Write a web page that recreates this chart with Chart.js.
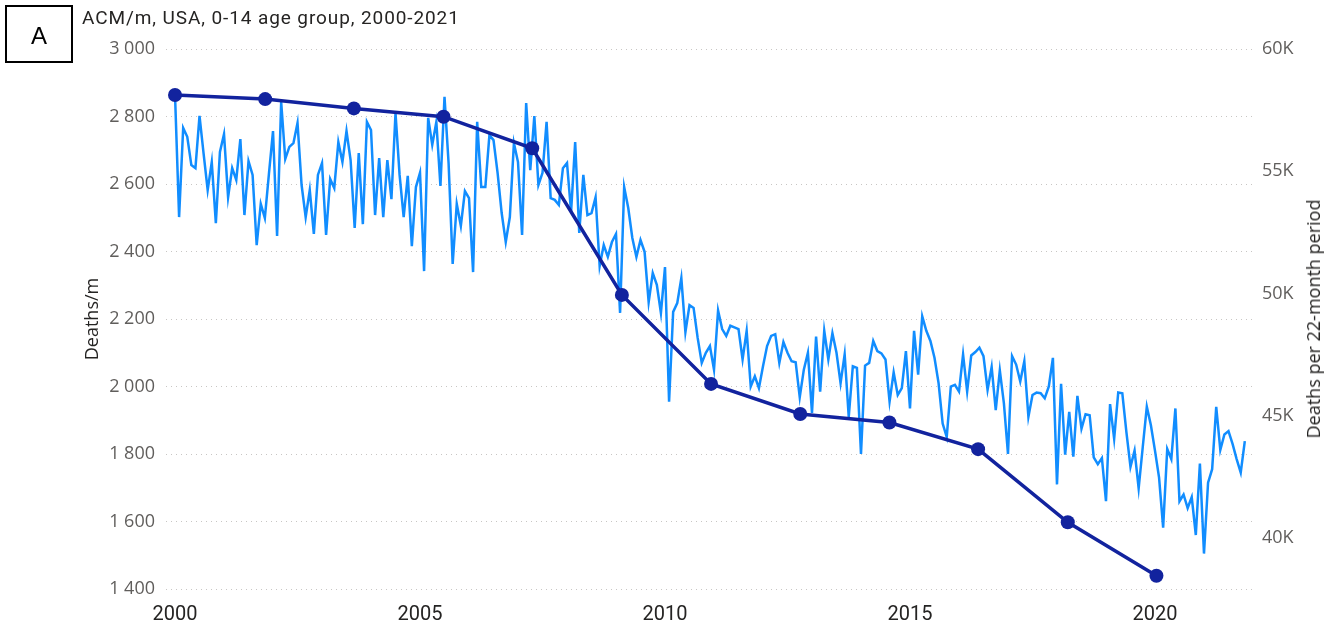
<!DOCTYPE html>
<html>
<head>
<meta charset="utf-8">
<script src="https://cdn.jsdelivr.net/npm/chart.js@4/dist/chart.umd.min.js"></script>
<style>
  body { margin: 0; background: #fff; }
  #wrap { position: relative; width: 1325px; height: 622px; }
  #panel {
    position: absolute; left: 5px; top: 5px; width: 64px; height: 54px;
    border: 2px solid #000; font: 24px "Liberation Sans", Arial, sans-serif;
    text-align: center; line-height: 58px; color: #000;
  }
  #title {
    position: absolute; left: 82px; top: 6px; white-space: nowrap;
    font: 19px Roboto, sans-serif; letter-spacing: 0.9px; color: #252423;
  }
  #rightTitle {
    position: absolute; left: 1313px; top: 319px; white-space: nowrap;
    font: 18px "Open Sans", sans-serif; color: #252423;
    transform: translate(-50%, -50%) rotate(-90deg);
  }
</style>
</head>
<body>
<div id="wrap">
  <canvas id="myChart" width="1325" height="622"></canvas>
  <div id="panel">A</div>
  <div id="title">ACM/m, USA, 0-14 age group, 2000-2021</div>
  <div id="rightTitle">Deaths per 22-month period</div>
</div>
<script>
// monthly deaths, Jan 2000 onwards
var startYear = 2000;
var monthlyDeaths = [
  2864, 2502, 2766, 2740, 2656, 2647, 2802, 2690, 2582, 2665, 2484, 2695,
  2748, 2561, 2647, 2612, 2733, 2508, 2668, 2627, 2419, 2541, 2499, 2630,
  2757, 2446, 2843, 2674, 2710, 2721, 2781, 2597, 2502, 2582, 2452, 2627,
  2662, 2449, 2615, 2588, 2724, 2665, 2757, 2671, 2470, 2692, 2481, 2784,
  2760, 2508, 2677, 2502, 2671, 2555, 2810, 2627, 2502, 2624, 2416, 2591,
  2633, 2342, 2796, 2716, 2784, 2594, 2858, 2662, 2363, 2541, 2476, 2579,
  2558, 2339, 2784, 2591, 2591, 2745, 2730, 2633, 2514, 2428, 2502, 2721,
  2665, 2449, 2840, 2641, 2801, 2597, 2633, 2784, 2558, 2553, 2538, 2647,
  2662, 2517, 2724, 2455, 2627, 2508, 2514, 2561, 2357, 2419, 2384, 2428,
  2452, 2218, 2591, 2529, 2440, 2384, 2434, 2399, 2250, 2336, 2301, 2218,
  2354, 1955, 2221, 2247, 2321, 2161, 2241, 2233, 2144, 2070, 2100, 2120,
  2050, 2225, 2170, 2150, 2180, 2175, 2170, 2080, 2165, 2000, 2030, 1995,
  2060, 2120, 2150, 2155, 2070, 2132, 2100, 2075, 2072, 1968, 2050, 2100,
  1922, 2148, 1985, 2165, 2080, 2158, 2100, 2010, 2095, 1910, 2060, 2055,
  1800, 2062, 2070, 2135, 2105, 2098, 2080, 1955, 2042, 1975, 1995, 2105,
  1935, 2165, 2035, 2208, 2165, 2135, 2085, 2010, 1890, 1850, 2000, 2005,
  1985, 2095, 1985, 2092, 2102, 2115, 2090, 1990, 2058, 1930, 2048, 1950,
  1800, 2090, 2065, 2015, 2075, 1910, 1975, 1982, 1980, 1965, 2000, 2085,
  1710, 2008, 1798, 1925, 1792, 1972, 1875, 1918, 1915, 1790, 1770, 1788,
  1660, 1948, 1845, 1982, 1980, 1865, 1762, 1810, 1698, 1820, 1940, 1885,
  1810, 1730, 1582, 1815, 1785, 1935, 1660, 1680, 1640, 1672, 1560, 1772,
  1505, 1715, 1755, 1940, 1812, 1858, 1868, 1830, 1785, 1745, 1838
];

// 22-month periods (right axis)
var periodYears = [2000.0, 2001.84, 2003.65, 2005.48, 2007.29, 2009.12, 2010.94, 2012.76, 2014.58, 2016.39, 2018.22, 2020.03];
var periodDeaths = [58120, 57950, 57570, 57230, 55940, 49940, 46300, 45070, 44720, 43630, 40640, 38450];

var xTicks = [2000, 2005, 2010, 2015, 2020];
var rightTicks = [40000, 45000, 50000, 55000, 60000];

var tickFont = { family: 'Open Sans', size: 18 };

function spaced(v) {
    return String(v).replace(/\B(?=(\d{3})+(?!\d))/g, ' ');
}

var ctx = document.getElementById('myChart').getContext('2d');
var myChart = new Chart(ctx, {
    type: 'line',
    data: {
        datasets: [{
            label: 'Deaths per 22-month period',
            data: periodYears.map(function (x, i) { return { x: x, y: periodDeaths[i] }; }),
            yAxisID: 'y1',
            borderColor: '#12239E',
            backgroundColor: '#12239E',
            borderWidth: 3.5,
            pointRadius: 7,
            pointBorderWidth: 0,
            pointBackgroundColor: '#12239E'
        }, {
            label: 'Deaths/m',
            data: monthlyDeaths.map(function (v, i) { return { x: startYear + i / 12, y: v }; }),
            yAxisID: 'y',
            borderColor: '#118DFF',
            borderWidth: 2.5,
            pointRadius: 0
        }]
    },
    options: {
        responsive: false,
        animation: false,
        layout: { padding: { left: 0, right: 0, top: 49, bottom: 0 } },
        plugins: {
            legend: { display: false },
            tooltip: { enabled: false }
        },
        scales: {
            x: {
                type: 'linear',
                min: 1999.816,
                max: 2021.98,
                grid: { display: false },
                border: { display: false },
                afterBuildTicks: function (scale) {
                    scale.ticks = xTicks.map(function (v) { return { value: v }; });
                },
                afterFit: function (scale) { scale.height = 33; },
                ticks: {
                    autoSkip: false,
                    maxRotation: 0,
                    padding: 6,
                    color: '#252423',
                    font: { family: 'Liberation Sans Narrow, Roboto, sans-serif', size: 20 },
                    callback: function (v) { return String(v); }
                }
            },
            y: {
                position: 'left',
                min: 1400,
                max: 3000,
                afterFit: function (scale) { scale.width = 166; },
                grid: { color: '#c8c6c4', lineWidth: 1, drawTicks: false },
                border: { display: false, dash: [1, 4] },
                title: {
                    display: true,
                    text: 'Deaths/m',
                    color: '#252423',
                    font: { family: 'Open Sans', size: 18 },
                    padding: { top: 82, bottom: 0 }
                },
                ticks: {
                    stepSize: 200,
                    padding: 11,
                    color: '#605E5C',
                    font: tickFont,
                    callback: function (v) { return spaced(v); }
                }
            },
            y1: {
                position: 'right',
                min: 37910,
                max: 60000,
                afterFit: function (scale) { scale.width = 73; },
                afterBuildTicks: function (scale) {
                    scale.ticks = rightTicks.map(function (v) { return { value: v }; });
                },
                grid: { drawOnChartArea: false, drawTicks: false },
                border: { display: false },
                ticks: {
                    padding: 10,
                    color: '#605E5C',
                    font: tickFont,
                    callback: function (v) { return (v / 1000) + 'K'; }
                }
            }
        }
    }
});
</script>
</body>
</html>
